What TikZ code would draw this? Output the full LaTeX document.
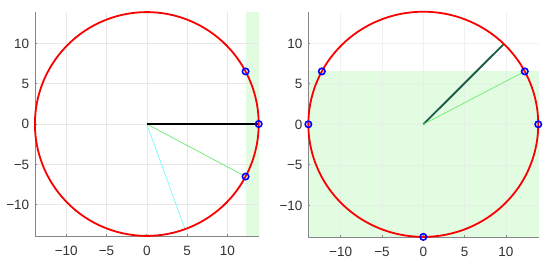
\documentclass[tikz,border=0pt]{standalone}
\usepackage{fontspec}
\setmainfont{Liberation Sans}
\definecolor{bandgreen}{RGB}{225,252,225}
\definecolor{gridgray}{RGB}{232,232,232}
\definecolor{axgray}{RGB}{135,135,135}
\definecolor{ticktext}{RGB}{50,50,50}
\definecolor{ltgreen}{RGB}{110,235,110}
\definecolor{ltcyan}{RGB}{120,250,250}
\definecolor{darkteal}{RGB}{28,92,72}
\definecolor{circred}{RGB}{250,0,0}
\definecolor{mkblue}{RGB}{0,0,255}
\tikzset{
  gridline/.style={gridgray, line width=0.5pt},
  axisline/.style={axgray, line width=0.7pt},
  circ/.style={circred, line width=1.8pt},
  marker/.style={mkblue, line width=1.6pt},
  thinray/.style={line width=0.7pt},
  thickray/.style={line width=1.9pt},
  xlab/.style={anchor=base, yshift=-19.5pt, text=ticktext, font=\fontsize{13.5}{15}\selectfont, inner sep=0pt},
  ylab/.style={anchor=base east, xshift=-5.5pt, yshift=-4.9pt, text=ticktext, font=\fontsize{13.5}{15}\selectfont, inner sep=0pt},
}
\begin{document}
\begin{tikzpicture}
\useasboundingbox (0,0) rectangle (550pt,263pt);
\fill[white] (0,0) rectangle (550pt,263pt);
% ---------------- left plot ----------------
\begin{scope}[shift={(146.8pt,139pt)}, x=8.05pt, y=8.05pt]
  \fill[bandgreen] (12.3,-13.9) rectangle (13.9,13.9);
  \foreach \v in {-10,-5,0,5,10} {
    \draw[gridline] (\v,-13.9) -- (\v,13.9);
    \draw[gridline] (-13.9,\v) -- (13.9,\v);
  }
  \draw[axisline] (-13.9,13.9) -- (-13.9,-13.9) -- (13.9,-13.9);
  \foreach \v in {-10,-5,0,5,10} {
    \draw[axisline] (\v,-13.9) -- ++(0,2.2pt);
    \draw[axisline] (-13.9,\v) -- ++(2.2pt,0);
  }
  \foreach \v/\t in {-10/−10,-5/−5,0/0,5/5,10/10} {
    \node[xlab] (lx\v) at (\v,-13.9) {\t};
    \node[ylab] (ly\v) at (-13.9,\v) {\t};
  }
  \coordinate (lo) at (0,0);
  \coordinate (lc) at (4.75,-13.06);
  \coordinate (lg) at (12.27,-6.53);
  \coordinate (lb) at (13.9,0);
  \coordinate (lt) at (12.27,6.53);
  \draw[thinray, ltcyan] (lo) -- (lc);
  \draw[thinray, ltgreen] (lo) -- (lg);
  \draw[thickray, black] (lo) -- (lb);
  \draw[circ] plot[domain=0:360, samples=180, smooth cycle] ({13.9*cos(\x)},{13.9*sin(\x)});
  \foreach \p in {lt,lb,lg} \draw[marker] (\p) circle[radius=3.2pt];
\end{scope}
% ---------------- right plot ----------------
\begin{scope}[shift={(423.3pt,138.7pt)}, x=8.27pt, y=8.1pt]
  \fill[bandgreen] (-13.95,-13.9) rectangle (13.95,6.55);
  \foreach \v in {-10,-5,0,5,10} {
    \draw[gridline, opacity=0.6] (\v,-13.9) -- (\v,13.9);
    \draw[gridline, opacity=0.6] (-13.95,\v) -- (13.95,\v);
  }
  \draw[axisline] (-13.95,13.9) -- (-13.95,-13.9) -- (13.95,-13.9);
  \foreach \v in {-10,-5,0,5,10} {
    \draw[axisline] (\v,-13.9) -- ++(0,2.2pt);
    \draw[axisline] (-13.95,\v) -- ++(2.2pt,0);
  }
  \foreach \v/\t in {-10/−10,-5/−5,0/0,5/5,10/10} {
    \node[xlab] (rx\v) at (\v,-13.9) {\t};
    \node[ylab, xshift=0.2pt] (ry\v) at (-13.95,\v) {\t};
  }
  \coordinate (ro) at (0,0);
  \coordinate (rd) at (9.74,9.91);
  \coordinate (rg) at (12.27,6.53);
  \coordinate (rp1) at (-12.27,6.53);
  \coordinate (rp2) at (-13.9,0);
  \coordinate (rp3) at (0,-13.9);
  \coordinate (rp4) at (13.9,0);
  \draw[thickray, darkteal] (ro) -- (rd);
  \draw[thinray, ltgreen] (ro) -- (rg);
  \draw[circ] plot[domain=0:360, samples=180, smooth cycle] ({13.9*cos(\x)},{13.9*sin(\x)});
  \foreach \p in {rg,rp1,rp2,rp3,rp4} \draw[marker] (\p) circle[radius=3.2pt];
\end{scope}
\end{tikzpicture}
\end{document}
